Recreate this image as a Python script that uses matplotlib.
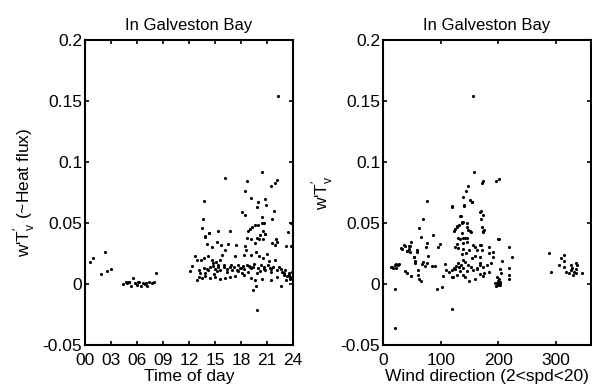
import matplotlib
matplotlib.use('Agg')
import matplotlib.pyplot as plt

plt.rcParams['font.family'] = ['Liberation Sans', 'DejaVu Sans']
plt.rcParams['mathtext.fontset'] = 'custom'
plt.rcParams['mathtext.rm'] = 'Liberation Sans'

# time of day (hours) vs w'Tv'
hour = [0.58, 0.89, 2.3, 1.85, 2.5, 3.0,
        4.42, 4.73, 4.9, 5.04, 5.1, 5.31, 5.5, 5.77, 5.96, 6.1, 6.27, 6.42, 6.73, 6.96,
        7.0, 7.19, 7.42, 7.69, 7.96, 8.2,
        16.15, 20.46, 18.66, 22.1, 21.9, 21.5, 18.46, 13.77, 19.2, 20.0, 20.77, 19.8,
        20.85, 18.15, 18.46, 21.77, 20.46, 21.6, 13.65, 20.4, 20.6, 19.6, 19.9, 19.3,
        13.46, 16.7, 18.85, 19.0, 20.5, 20.77, 14.3, 13.85, 23.8, 23.4, 22.0, 20.1,
        13.85, 14.35, 15.4, 14.04, 14.6, 15.2, 15.7, 16.5, 17.4, 18.5, 18.7, 19.1,
        19.6, 19.8, 20.2, 20.5, 20.8, 21.6, 21.9, 22.1, 23.2, 23.8,
        12.7, 12.9, 13.4, 13.7, 14.2, 14.6, 14.8, 15.1, 15.4, 15.6, 15.8, 16.2, 17.3,
        18.3, 18.6, 19.2, 19.7, 20.1, 20.5, 21.0, 21.2, 21.9,
        12.1, 12.4, 13.1, 13.3, 13.7, 13.9, 14.2, 14.4, 14.8, 15.0, 15.3, 15.6, 16.0,
        16.35, 16.7, 16.9, 17.2, 17.5, 17.7, 18.0, 18.2, 18.4, 18.7, 18.85, 19.2, 19.4,
        19.8, 20.0, 20.3, 20.6, 20.8, 21.1, 21.5, 21.7, 22.1, 22.4, 22.7, 22.9, 23.1,
        23.3, 23.5, 23.7,
        12.9, 13.5, 13.85, 14.4, 15.0, 15.6, 16.2, 16.7, 17.3, 18.3, 19.2, 19.6, 19.7,
        19.4, 20.4, 21.5, 22.6, 23.2, 19.8, 22.3,
        14.1, 15.2, 16.0, 17.0, 17.9, 18.9, 19.5, 20.2, 21.3, 22.6, 23.5, 23.9,
        13.2, 14.9, 16.4, 17.6, 18.1, 19.0, 20.7, 21.4, 22.2, 23.0, 23.6]
flux_t = [0.018, 0.021, 0.026, 0.008, 0.011, 0.012,
          -0.0003, 0.0014, 0.0005, 0.002, 0.0015, -0.002, 0.0046, 0.001, -0.0005, 0.002,
          0.0015, -0.0015, 0.0012, -0.0003, 0.001, -0.002, 0.0018, 0.0008, 0.0015, 0.009,
          0.0866, 0.0915, 0.0844, 0.085, 0.083, 0.0805, 0.0765, 0.068, 0.0707, 0.0674,
          0.0694, 0.0633, 0.0645, 0.0587, 0.0565, 0.0595, 0.055, 0.053, 0.053, 0.050,
          0.050, 0.048, 0.0485, 0.047, 0.0456, 0.0437, 0.0437, 0.045, 0.0437, 0.041,
          0.042, 0.0387, 0.050, 0.043, 0.037, 0.037,
          0.0393, 0.042, 0.0437, 0.0327, 0.030, 0.0346, 0.032, 0.0325, 0.032, 0.031,
          0.0374, 0.0366, 0.0333, 0.038, 0.040, 0.0366, 0.041, 0.0333, 0.032, 0.0346,
          0.031, 0.031,
          0.0229, 0.0196, 0.020, 0.021, 0.023, 0.0196, 0.017, 0.018, 0.016, 0.020,
          0.0237, 0.0278, 0.0229, 0.0237, 0.028, 0.0237, 0.0265, 0.0229, 0.021, 0.0245,
          0.019, 0.0196,
          0.0109, 0.0147, 0.0114, 0.0092, 0.0128, 0.0087, 0.0114, 0.0142, 0.0147, 0.012,
          0.0136, 0.0114, 0.0142, 0.012, 0.0136, 0.0158, 0.0142, 0.0114, 0.0155, 0.0128,
          0.0147, 0.012, 0.0155, 0.010, 0.0128, 0.0142, 0.0092, 0.0128, 0.0155, 0.0136,
          0.0114, 0.0155, 0.012, 0.0142, 0.0114, 0.0136, 0.010, 0.0087, 0.0114, 0.0065,
          0.0092, 0.0054,
          0.0032, 0.0046, 0.0065, 0.0046, 0.0054, 0.0038, 0.0046, 0.006, 0.0065, 0.0073,
          0.0046, 0.0032, -0.0017, -0.005, 0.0038, 0.0032, -0.0017, 0.0032, -0.0213,
          0.154,
          0.0125, 0.0105, 0.0160, 0.0115, 0.0135, 0.0150, 0.0165, 0.0105, 0.0130, 0.0120,
          0.0075, 0.0100,
          0.0060, 0.0080, 0.0095, 0.0105, 0.0090, 0.0140, 0.0125, 0.0095, 0.0060, 0.0070,
          0.0040]

# wind direction (deg) vs w'Tv'
wdir = [20.3, 20.3, 118.8, 92.8, 103, 14.5, 22, 27.8, 23.2, 31.9, 36, 45.2, 49.3,
        41.7, 46.4, 37.7, 41.7, 49.3, 55, 53.3, 59.7, 62.6, 68.4, 65, 74.2, 76.5, 60.9,
        62.6, 65, 60.9, 66.7, 69.6, 72.5, 75.4, 78.3, 84, 89.9, 87, 95.7, 98.6, 107, 109,
        104, 115, 119, 120.6, 124.6, 128.7, 133, 139, 142, 149.6, 152, 156.5, 163.5,
        168, 172.7,
        124.6, 128.7, 130.4, 127.5, 132, 136, 139, 134.5, 123.5, 145, 152, 136, 142,
        138, 145, 133.3, 139, 143.8, 136, 138, 149.6, 155.4, 159, 162, 169, 159, 153.6,
        168, 130.4, 134.5, 142, 147.8, 126.4, 122.9, 132, 146, 138, 118.8, 168, 159,
        171, 171, 168, 140, 120, 153.6, 76.5,
        156, 158.2, 173.3, 172.1, 195.9, 201.7, 147.2, 144.3, 138.5, 151.3, 154.2,
        119.4, 139.7, 169.8, 172.7, 169.2, 133.9, 136.8, 128.1, 125.2, 145.5, 146.6,
        150.1, 172.7, 175.6, 129.2, 138.5, 145.5, 200.5,
        172.8, 199.4, 168.7, 183.2, 218, 190.1, 183.2, 190.1, 222.6, 168.7, 187.8,
        206.4, 180.3, 172.8, 218, 162.9, 184.3, 174.5, 203.5, 205.2, 218, 218, 197.7,
        200.6, 194.8, 197.7, 200.6, 203.5, 199.4, 203.5, 196, 198.5, 201.5, 202.5,
        287.5, 290.4, 313.6, 307.8, 313.6, 305, 313.6, 325.2, 333.9, 336.8, 325.2,
        328.1, 331, 322.3, 333.9, 329.3, 344.3, 316.5, 333.9,
        16.8, 15, 21.5, 26, 33, 37.7, 44.6, 47.5, 41.7, 59, 53, 55]
flux_w = [-0.0363, -0.004, -0.0208, -0.004, -0.0022, 0.0142, 0.0164, 0.0164, 0.0128,
          0.0292, 0.032, 0.031, 0.0347, 0.0273, 0.0265, 0.011, 0.0093, 0.0066, 0.017,
          0.0218, 0.0265, 0.0456, 0.053, 0.0388, 0.030, 0.0333, 0.0115, 0.0038, 0.0027,
          0.0074, 0.0164, 0.0183, 0.0147, 0.0175, 0.0229, 0.0147, 0.0147, 0.040, 0.0306,
          0.0328, 0.0164, 0.0115, 0.0066, 0.0101, 0.0115, 0.0054, 0.012, 0.0074, 0.011,
          0.0128, 0.006, 0.0027, 0.0142, 0.0115, 0.0128, 0.0155, 0.0066,
          0.0306, 0.0328, 0.0292, 0.047, 0.0483, 0.0497, 0.051, 0.0557, 0.0437, 0.047,
          0.0429, 0.0415, 0.0374, 0.0333, 0.0347, 0.0366, 0.0284, 0.0257, 0.025, 0.020,
          0.0278, 0.032, 0.0306, 0.0278, 0.032, 0.023, 0.021, 0.0218, 0.017, 0.0155,
          0.0183, 0.0155, 0.0147, 0.0128, 0.0136, 0.011, 0.0074, 0.006, 0.0082, 0.0038,
          0.0278, 0.047, 0.0593, 0.0639, 0.0639, 0.0674, 0.068,
          0.154, 0.0915, 0.0847, 0.083, 0.0847, 0.0863, 0.0806, 0.0765, 0.071, 0.0689,
          0.0675, 0.0634, 0.0648, 0.0598, 0.0563, 0.053, 0.0558, 0.0511, 0.0476, 0.0448,
          0.0503, 0.0443, 0.0437, 0.0437, 0.0443, 0.0375, 0.0375, 0.0375, 0.037,
          0.0428, 0.0366, 0.032, 0.030, 0.030, 0.0265, 0.0256, 0.0224, 0.0224, 0.0175,
          0.0175, 0.019, 0.0155, 0.0142, 0.0128, 0.012, 0.0101, 0.0087, 0.012, 0.0087,
          0.0074, 0.0038, 0.006, 0.0038, 0.0005, 0.001, 0.0, 0.0019, -0.001, -0.0008,
          -0.002, 0.0025, 0.0015, 0.0005,
          0.0256, 0.010, 0.0237, 0.021, 0.019, 0.0155, 0.0142, 0.0155, 0.0175, 0.0155,
          0.0114, 0.0128, 0.010, 0.0087, 0.0093, 0.0074, 0.0087, 0.010, 0.012,
          0.0133, 0.014, 0.016, 0.016, 0.029, 0.0313, 0.0285, 0.031, 0.027, 0.028,
          0.022, 0.0185]

hour_ticks = [0, 3, 6, 9, 12, 15, 18, 21, 24]
hour_labels = ['00', '03', '06', '09', '12', '15', '18', '21', '24']
flux_ticks = [-0.05, 0, 0.05, 0.1, 0.15, 0.2]
flux_labels = ['-0.05', '0', '0.05', '0.1', '0.15', '0.2']

ylab = r"w'T$_\mathregular{v}^{\prime}$"

fig = plt.figure(figsize=(5.92, 3.87), dpi=100)
ax1 = fig.add_axes([0.1436, 0.1085, 0.3514, 0.788])
ax2 = fig.add_axes([0.647, 0.1085, 0.351, 0.788])

ax1.plot(hour, flux_t, 'k.', markersize=2.5)
ax2.plot(wdir, flux_w, 'k.', markersize=2.5)

for ax in (ax1, ax2):
    ax.set_ylim(-0.05, 0.2)
    ax.set_yticks(flux_ticks)
    ax.set_yticklabels(flux_labels)
    ax.tick_params(direction='in', top=True, right=True, length=3, width=1.2,
                   labelsize=12.5)
    ax.tick_params(axis='y', pad=2)
    ax.tick_params(axis='x', pad=5.5)
    for s in ax.spines.values():
        s.set_linewidth(1.5)
    ax.set_title('In Galveston Bay', fontsize=12, pad=7)

ax1.set_xlim(0, 24)
ax1.set_xticks(hour_ticks)
ax1.set_xticklabels(hour_labels)
ax1.set_xlabel('Time of day', fontsize=12.5, labelpad=1)
ax1.set_ylabel(ylab + ' (~Heat flux)', fontsize=12.5, labelpad=4)

ax2.set_xlim(0, 360)
ax2.set_xticks([0, 100, 200, 300])
ax2.set_xlabel('Wind direction (2<spd<20)', fontsize=12.5, labelpad=1)
ax2.set_ylabel(ylab, fontsize=12.5, labelpad=4)

fig.savefig('out.png', dpi=100)
